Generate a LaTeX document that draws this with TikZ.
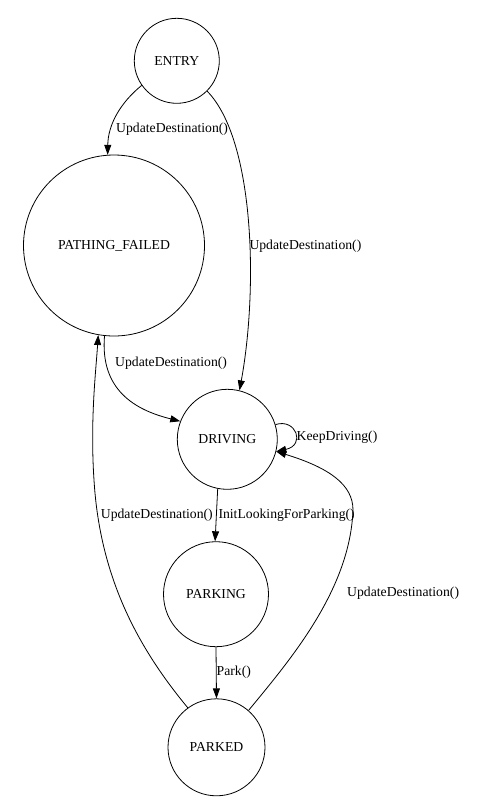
\documentclass[tikz,border=0pt]{standalone}
\usepackage{fontspec}
\setmainfont{Liberation Serif}
\usetikzlibrary{arrows.meta}
\begin{document}
\begin{tikzpicture}[x=1pt,y=-1pt,
  every node/.style={font=\fontsize{13.7}{16}\selectfont},
  state/.style={draw,circle,inner sep=0pt,line width=0.8pt},
  lbl/.style={anchor=west,inner sep=0pt},
  trans/.style={line width=0.8pt,-{Triangle[length=10pt,width=7pt]}}]
\useasboundingbox (0,0) rectangle (503,804);
\node[state,minimum size=85pt] (entry) at (176.8,60.8) {ENTRY};
\node[state,minimum size=181pt] (pf) at (114,245.5) {PATHING\_FAILED};
\node[state,minimum size=100pt] (drv) at (227.3,439.3) {DRIVING};
\node[state,minimum size=105pt] (parking) at (216,594.2) {PARKING};
\node[state,minimum size=97pt] (parked) at (216.5,747.3) {PARKED};
% edges
\draw[trans] (entry.215.7) .. controls (120,103) and (108,125) .. (pf.94.2);
\draw[trans] (entry.315.3) .. controls (255,140) and (258,290) .. (drv.76);
\draw[trans] (pf.264.3) .. controls (100,390) and (135,410) .. (drv.159.6);
\draw[trans] (drv.17) .. controls (296,418) and (306,445) .. (drv.-14);
\draw[trans] (drv.259.8) -- (parking.91);
\draw[trans] (parking.south) -- (parked.north);
\draw[trans] (parked.126.9) .. controls (140,650) and (100,580) .. (94,480)
  .. controls (90,420) and (96,370) .. (pf.260.5);
\draw[trans] (parked.49.7) .. controls (290,660) and (350,590) .. (353,510)
  .. controls (353,485) and (330,468) .. (drv.-14);
% labels
\node[lbl] (l1) at (116,129.3) {UpdateDestination()};
\node[lbl] (l2) at (249.3,245.7) {UpdateDestination()};
\node[lbl] (l3) at (115,363.3) {UpdateDestination()};
\node[lbl] (l4) at (296.5,437.5) {KeepDriving()};
\node[lbl] (l5) at (218.3,515) {InitLookingForParking()};
\node[lbl] (l7) at (100.7,515) {UpdateDestination()};
\node[lbl] (l6) at (216.5,672) {Park()};
\node[lbl] (l8) at (347,593) {UpdateDestination()};
\end{tikzpicture}
\end{document}
